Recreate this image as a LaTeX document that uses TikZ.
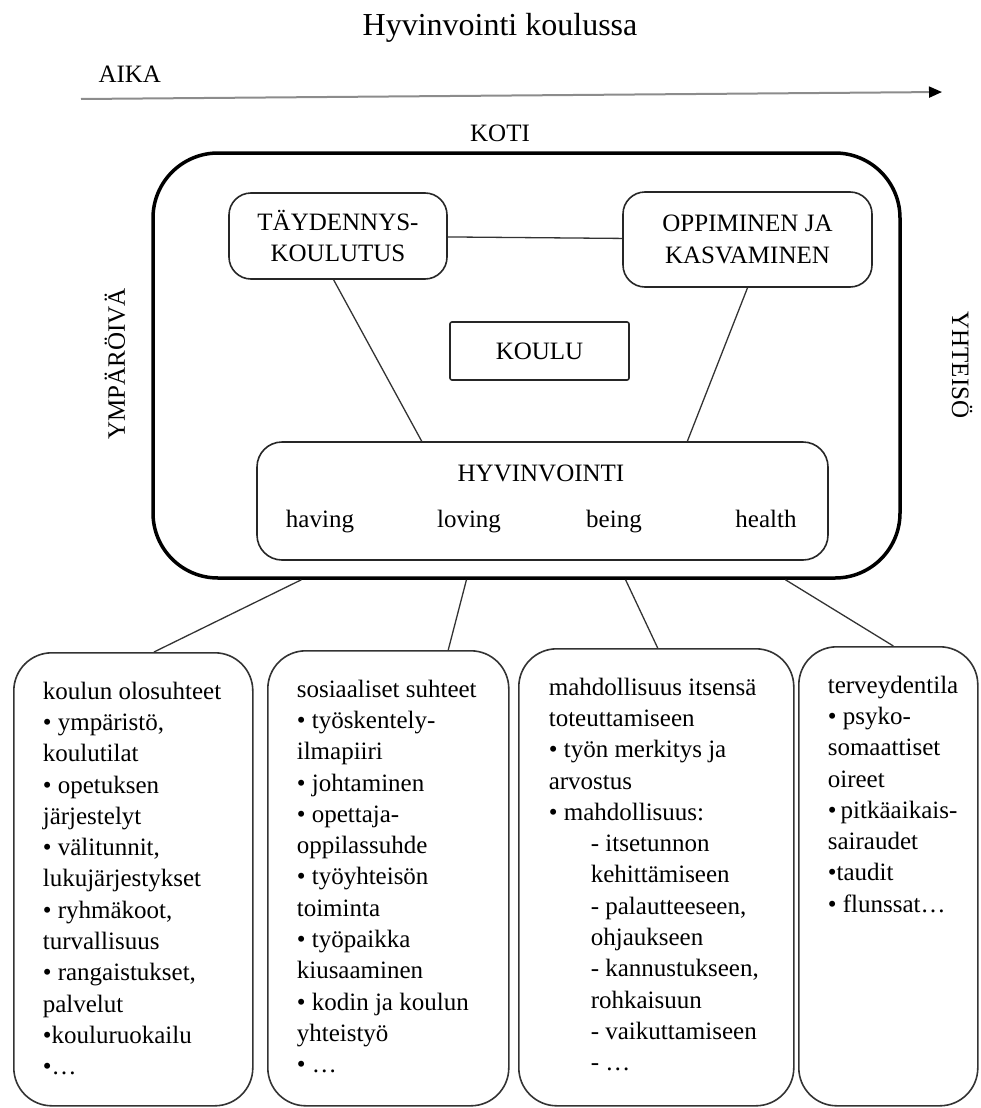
\documentclass[tikz,border=0pt]{standalone}
\usepackage{fontspec}
\setmainfont{Liberation Serif}
\usepackage{tikz}
\usetikzlibrary{calc}
\usetikzlibrary{arrows.meta}
\tikzset{every node/.style={font=\fontsize{25}{31.3}\selectfont}}
\tikzset{rbox/.style={draw=black!85, line width=1.6pt, rounded corners=22pt, align=center}}
\tikzset{listbox/.style={draw=black!80, line width=1.6pt, rounded corners=38pt, anchor=north west, inner xsep=29pt, inner ysep=29pt}}
\tikzset{conn/.style={draw=black!80, line width=1.3pt}}

\begin{document}
\begin{tikzpicture}[x=1pt, y=-1pt]       % hyvinvointi koulussa
    \path[use as bounding box] (0, 0) rectangle (980, 1108);

    \node[font=\fontsize{32}{38}\selectfont] at (500, 28) (title) {Hyvinvointi koulussa};
    \node[anchor=west] at (95, 74) (aika) {AIKA};
    \coordinate (t0) at (81, 99);
    \coordinate (t1) at (942, 92);
    \draw[black!45, line width=2pt, -{Triangle[length=13pt, width=11pt, color=black]}] (t0) -- (t1);

    \node at (500, 133) (koti) {KOTI};
    \node[rotate=90] at (115, 364) (ymp) {YMPÄRÖIVÄ};
    \node[rotate=-90] at (962, 365) (yht) {YHTEISÖ};

    \node[draw, line width=3.5pt, rounded corners=65pt, minimum width=747pt, minimum height=425pt] at (526.5, 365.5) (frame) {};

    \node[rbox, minimum width=218pt, minimum height=86pt] at (338, 236) (tayd) {TÄYDENNYS-\\KOULUTUS};
    \node[rbox, minimum width=249pt, minimum height=95pt] at (747.5, 239.5) (oppi) {OPPIMINEN JA\\KASVAMINEN};
    \node[rbox, rounded corners=2pt, minimum width=179pt, minimum height=58pt] at (539.5, 351) (koulu) {KOULU};
    \node[rbox, rounded corners=25pt, minimum width=571pt, minimum height=118pt] at (542.5, 501) (hyv) {};
    \node at (541, 473) (hyvt) {HYVINVOINTI};
    \foreach \w/\x in {having/320, loving/469, being/614, health/766}
        \node[anchor=base] at (\x, 527) (\w) {\w};

    \draw[conn] (tayd) -- (oppi);
    \draw[conn] ($(tayd.south west)!0.48!(tayd.south east)$) -- ($(hyv.north west)!0.289!(hyv.north east)$);
    \draw[conn] (oppi.south) -- ($(hyv.north west)!0.753!(hyv.north east)$);

    \node[listbox] at (13, 652) (b1) {\parbox[t][395pt][t]{181pt}{\raggedright
        koulun olosuhteet\\
        •~ympäristö,\\
        koulutilat\\
        •~opetuksen\\
        järjestelyt\\
        •~välitunnit,\\
        lukujärjestykset\\
        •~ryhmäkoot,\\
        turvallisuus\\
        •~rangaistukset,\\
        palvelut\\
        •kouluruokailu\\
        •…}};
    \node[listbox] at (267, 650) (b2) {\parbox[t][397pt][t]{183pt}{\raggedright
        sosiaaliset~suhteet\\
        •~\mbox{työskentely-}\\
        ilmapiiri\\
        •~johtaminen\\
        •~\mbox{opettaja-}\\
        oppilassuhde\\
        •~työyhteisön\\
        toiminta\\
        •~työpaikka\\
        kiusaaminen\\
        •~kodin ja koulun\\
        yhteistyö\\
        •~…}};
    \node[listbox, inner xsep=30pt] at (518, 648) (b3) {\parbox[t][399pt][t]{215pt}{\raggedright
        mahdollisuus~itsensä\\
        toteuttamiseen\\
        •~työn merkitys ja\\
        arvostus\\
        •~mahdollisuus:\\
        \hspace*{42pt}-~itsetunnon\\
        \hspace*{42pt}kehittämiseen\\
        \hspace*{42pt}-~palautteeseen,\\
        \hspace*{42pt}ohjaukseen\\
        \hspace*{42pt}-~kannustukseen,\\
        \hspace*{42pt}rohkaisuun\\
        \hspace*{42pt}-~vaikuttamiseen\\
        \hspace*{42pt}-~…}};
    \node[listbox] at (798, 646) (b4) {\parbox[t][401pt][t]{121pt}{\raggedright
        terveydentila\\
        •~\mbox{psyko-}\\
        somaattiset\\
        oireet\\
        •~\mbox{pitkäaikais-}\\
        sairaudet\\
        •taudit\\
        •~flunssat…}};

    \draw[conn] ($(frame.south west)!0.2!(frame.south east)$) -- ($(b1.north west)!0.586!(b1.north east)$);
    \draw[conn] ($(frame.south west)!0.42!(frame.south east)$) -- ($(b2.north west)!0.747!(b2.north east)$);
    \draw[conn] ($(frame.south west)!0.632!(frame.south east)$) -- ($(b3.north west)!0.505!(b3.north east)$);
    \draw[conn] ($(frame.south west)!0.845!(frame.south east)$) -- ($(b4.north west)!0.528!(b4.north east)$);
\end{tikzpicture}
\end{document}
